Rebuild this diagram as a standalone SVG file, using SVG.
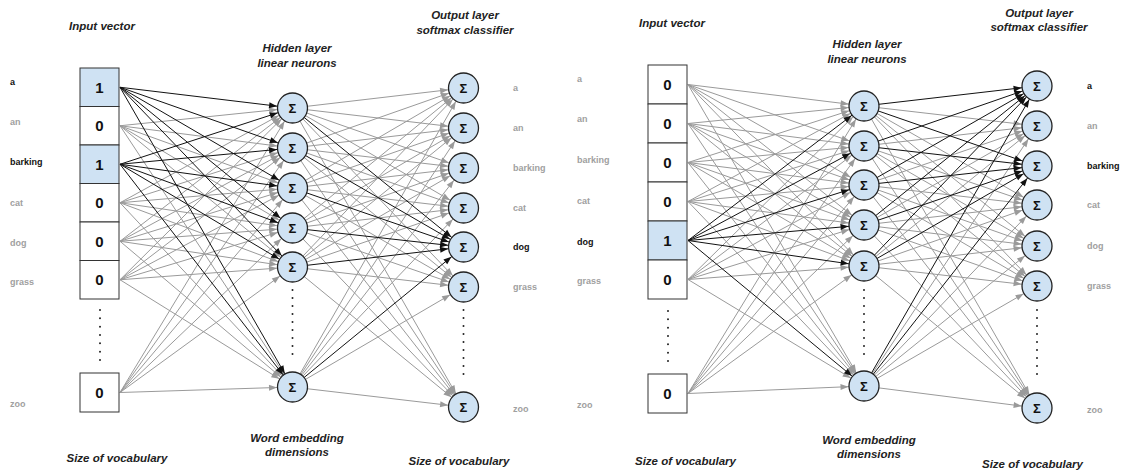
<svg xmlns="http://www.w3.org/2000/svg" width="1130" height="471" viewBox="0 0 1130 471">
<style>
text{font-family:"Liberation Sans",Arial,sans-serif}
.t{font-size:11.5px;font-weight:bold;font-style:italic;fill:#222;text-anchor:middle}
.w{font-size:9px;font-weight:bold;fill:#a0a0a0}
.wa{font-size:9px;font-weight:bold;fill:#111}
.g{stroke:#9a9a9a;stroke-width:1;marker-end:url(#ag)}
.k{stroke:#111;stroke-width:1;marker-end:url(#ak)}
.box{fill:#fff;stroke:#333;stroke-width:1}
.on{fill:#cfe2f3;stroke:#333;stroke-width:1}
.num{font-size:15px;font-weight:bold;fill:#111;text-anchor:middle}
.n{fill:#cfe2f3;stroke:#222;stroke-width:1.3}
.s{font-size:13px;font-weight:bold;fill:#111;text-anchor:middle}
.dots{stroke:#222;stroke-width:2;stroke-linecap:round;fill:none}
</style>
<defs>
<marker id="ag" markerUnits="userSpaceOnUse" markerWidth="8" markerHeight="6" refX="23.5" refY="3" orient="auto" overflow="visible"><path d="M0,0 L8,3 L0,6 z" fill="#9a9a9a"/></marker>
<marker id="ak" markerUnits="userSpaceOnUse" markerWidth="8" markerHeight="6" refX="23.5" refY="3" orient="auto" overflow="visible"><path d="M0,0 L8,3 L0,6 z" fill="#111"/></marker>
</defs>
<rect width="1130" height="471" fill="#fff"/>

<g id="connectors">
<!-- left input -> hidden, gray -->
<line class="g" x1="120" y1="125.75" x2="292.5" y2="108"/><line class="g" x1="120" y1="125.75" x2="292.5" y2="148"/><line class="g" x1="120" y1="125.75" x2="292.5" y2="188"/><line class="g" x1="120" y1="125.75" x2="292.5" y2="228"/><line class="g" x1="120" y1="125.75" x2="292.5" y2="267"/><line class="g" x1="120" y1="125.75" x2="292.5" y2="387"/>
<line class="g" x1="120" y1="202.75" x2="292.5" y2="108"/><line class="g" x1="120" y1="202.75" x2="292.5" y2="148"/><line class="g" x1="120" y1="202.75" x2="292.5" y2="188"/><line class="g" x1="120" y1="202.75" x2="292.5" y2="228"/><line class="g" x1="120" y1="202.75" x2="292.5" y2="267"/><line class="g" x1="120" y1="202.75" x2="292.5" y2="387"/>
<line class="g" x1="120" y1="241.25" x2="292.5" y2="108"/><line class="g" x1="120" y1="241.25" x2="292.5" y2="148"/><line class="g" x1="120" y1="241.25" x2="292.5" y2="188"/><line class="g" x1="120" y1="241.25" x2="292.5" y2="228"/><line class="g" x1="120" y1="241.25" x2="292.5" y2="267"/><line class="g" x1="120" y1="241.25" x2="292.5" y2="387"/>
<line class="g" x1="120" y1="279.75" x2="292.5" y2="108"/><line class="g" x1="120" y1="279.75" x2="292.5" y2="148"/><line class="g" x1="120" y1="279.75" x2="292.5" y2="188"/><line class="g" x1="120" y1="279.75" x2="292.5" y2="228"/><line class="g" x1="120" y1="279.75" x2="292.5" y2="267"/><line class="g" x1="120" y1="279.75" x2="292.5" y2="387"/>
<line class="g" x1="120" y1="392.5" x2="292.5" y2="108"/><line class="g" x1="120" y1="392.5" x2="292.5" y2="148"/><line class="g" x1="120" y1="392.5" x2="292.5" y2="188"/><line class="g" x1="120" y1="392.5" x2="292.5" y2="228"/><line class="g" x1="120" y1="392.5" x2="292.5" y2="267"/><line class="g" x1="120" y1="392.5" x2="292.5" y2="387"/>
<!-- left hidden -> output, gray -->
<line class="g" x1="292.5" y1="108" x2="463.5" y2="88"/><line class="g" x1="292.5" y1="108" x2="463.5" y2="128"/><line class="g" x1="292.5" y1="108" x2="463.5" y2="168"/><line class="g" x1="292.5" y1="108" x2="463.5" y2="208"/><line class="g" x1="292.5" y1="108" x2="463.5" y2="287"/><line class="g" x1="292.5" y1="108" x2="463.5" y2="407"/>
<line class="g" x1="292.5" y1="148" x2="463.5" y2="88"/><line class="g" x1="292.5" y1="148" x2="463.5" y2="128"/><line class="g" x1="292.5" y1="148" x2="463.5" y2="168"/><line class="g" x1="292.5" y1="148" x2="463.5" y2="208"/><line class="g" x1="292.5" y1="148" x2="463.5" y2="287"/><line class="g" x1="292.5" y1="148" x2="463.5" y2="407"/>
<line class="g" x1="292.5" y1="188" x2="463.5" y2="88"/><line class="g" x1="292.5" y1="188" x2="463.5" y2="128"/><line class="g" x1="292.5" y1="188" x2="463.5" y2="168"/><line class="g" x1="292.5" y1="188" x2="463.5" y2="208"/><line class="g" x1="292.5" y1="188" x2="463.5" y2="287"/><line class="g" x1="292.5" y1="188" x2="463.5" y2="407"/>
<line class="g" x1="292.5" y1="228" x2="463.5" y2="88"/><line class="g" x1="292.5" y1="228" x2="463.5" y2="128"/><line class="g" x1="292.5" y1="228" x2="463.5" y2="168"/><line class="g" x1="292.5" y1="228" x2="463.5" y2="208"/><line class="g" x1="292.5" y1="228" x2="463.5" y2="287"/><line class="g" x1="292.5" y1="228" x2="463.5" y2="407"/>
<line class="g" x1="292.5" y1="267" x2="463.5" y2="88"/><line class="g" x1="292.5" y1="267" x2="463.5" y2="128"/><line class="g" x1="292.5" y1="267" x2="463.5" y2="168"/><line class="g" x1="292.5" y1="267" x2="463.5" y2="208"/><line class="g" x1="292.5" y1="267" x2="463.5" y2="287"/><line class="g" x1="292.5" y1="267" x2="463.5" y2="407"/>
<line class="g" x1="292.5" y1="387" x2="463.5" y2="88"/><line class="g" x1="292.5" y1="387" x2="463.5" y2="128"/><line class="g" x1="292.5" y1="387" x2="463.5" y2="168"/><line class="g" x1="292.5" y1="387" x2="463.5" y2="208"/><line class="g" x1="292.5" y1="387" x2="463.5" y2="287"/><line class="g" x1="292.5" y1="387" x2="463.5" y2="407"/>
<!-- left black -->
<line class="k" x1="120" y1="87.25" x2="292.5" y2="108"/><line class="k" x1="120" y1="87.25" x2="292.5" y2="148"/><line class="k" x1="120" y1="87.25" x2="292.5" y2="188"/><line class="k" x1="120" y1="87.25" x2="292.5" y2="228"/><line class="k" x1="120" y1="87.25" x2="292.5" y2="267"/><line class="k" x1="120" y1="87.25" x2="292.5" y2="387"/>
<line class="k" x1="120" y1="164.25" x2="292.5" y2="108"/><line class="k" x1="120" y1="164.25" x2="292.5" y2="148"/><line class="k" x1="120" y1="164.25" x2="292.5" y2="188"/><line class="k" x1="120" y1="164.25" x2="292.5" y2="228"/><line class="k" x1="120" y1="164.25" x2="292.5" y2="267"/><line class="k" x1="120" y1="164.25" x2="292.5" y2="387"/>
<line class="k" x1="292.5" y1="108" x2="463.5" y2="247"/><line class="k" x1="292.5" y1="148" x2="463.5" y2="247"/><line class="k" x1="292.5" y1="188" x2="463.5" y2="247"/><line class="k" x1="292.5" y1="228" x2="463.5" y2="247"/><line class="k" x1="292.5" y1="267" x2="463.5" y2="247"/><line class="k" x1="292.5" y1="387" x2="463.5" y2="247"/>

<!-- right input -> hidden, gray -->
<line class="g" x1="688" y1="84.5" x2="864" y2="106"/><line class="g" x1="688" y1="84.5" x2="864" y2="146"/><line class="g" x1="688" y1="84.5" x2="864" y2="185"/><line class="g" x1="688" y1="84.5" x2="864" y2="225"/><line class="g" x1="688" y1="84.5" x2="864" y2="266"/><line class="g" x1="688" y1="84.5" x2="864" y2="386"/>
<line class="g" x1="688" y1="123.5" x2="864" y2="106"/><line class="g" x1="688" y1="123.5" x2="864" y2="146"/><line class="g" x1="688" y1="123.5" x2="864" y2="185"/><line class="g" x1="688" y1="123.5" x2="864" y2="225"/><line class="g" x1="688" y1="123.5" x2="864" y2="266"/><line class="g" x1="688" y1="123.5" x2="864" y2="386"/>
<line class="g" x1="688" y1="162.5" x2="864" y2="106"/><line class="g" x1="688" y1="162.5" x2="864" y2="146"/><line class="g" x1="688" y1="162.5" x2="864" y2="185"/><line class="g" x1="688" y1="162.5" x2="864" y2="225"/><line class="g" x1="688" y1="162.5" x2="864" y2="266"/><line class="g" x1="688" y1="162.5" x2="864" y2="386"/>
<line class="g" x1="688" y1="201.5" x2="864" y2="106"/><line class="g" x1="688" y1="201.5" x2="864" y2="146"/><line class="g" x1="688" y1="201.5" x2="864" y2="185"/><line class="g" x1="688" y1="201.5" x2="864" y2="225"/><line class="g" x1="688" y1="201.5" x2="864" y2="266"/><line class="g" x1="688" y1="201.5" x2="864" y2="386"/>
<line class="g" x1="688" y1="279.5" x2="864" y2="106"/><line class="g" x1="688" y1="279.5" x2="864" y2="146"/><line class="g" x1="688" y1="279.5" x2="864" y2="185"/><line class="g" x1="688" y1="279.5" x2="864" y2="225"/><line class="g" x1="688" y1="279.5" x2="864" y2="266"/><line class="g" x1="688" y1="279.5" x2="864" y2="386"/>
<line class="g" x1="688" y1="393.5" x2="864" y2="106"/><line class="g" x1="688" y1="393.5" x2="864" y2="146"/><line class="g" x1="688" y1="393.5" x2="864" y2="185"/><line class="g" x1="688" y1="393.5" x2="864" y2="225"/><line class="g" x1="688" y1="393.5" x2="864" y2="266"/><line class="g" x1="688" y1="393.5" x2="864" y2="386"/>
<!-- right hidden -> output, gray -->
<line class="g" x1="864" y1="106" x2="1037" y2="126"/><line class="g" x1="864" y1="106" x2="1037" y2="205"/><line class="g" x1="864" y1="106" x2="1037" y2="246"/><line class="g" x1="864" y1="106" x2="1037" y2="286"/><line class="g" x1="864" y1="106" x2="1037" y2="408"/>
<line class="g" x1="864" y1="146" x2="1037" y2="126"/><line class="g" x1="864" y1="146" x2="1037" y2="205"/><line class="g" x1="864" y1="146" x2="1037" y2="246"/><line class="g" x1="864" y1="146" x2="1037" y2="286"/><line class="g" x1="864" y1="146" x2="1037" y2="408"/>
<line class="g" x1="864" y1="185" x2="1037" y2="126"/><line class="g" x1="864" y1="185" x2="1037" y2="205"/><line class="g" x1="864" y1="185" x2="1037" y2="246"/><line class="g" x1="864" y1="185" x2="1037" y2="286"/><line class="g" x1="864" y1="185" x2="1037" y2="408"/>
<line class="g" x1="864" y1="225" x2="1037" y2="126"/><line class="g" x1="864" y1="225" x2="1037" y2="205"/><line class="g" x1="864" y1="225" x2="1037" y2="246"/><line class="g" x1="864" y1="225" x2="1037" y2="286"/><line class="g" x1="864" y1="225" x2="1037" y2="408"/>
<line class="g" x1="864" y1="266" x2="1037" y2="126"/><line class="g" x1="864" y1="266" x2="1037" y2="205"/><line class="g" x1="864" y1="266" x2="1037" y2="246"/><line class="g" x1="864" y1="266" x2="1037" y2="286"/><line class="g" x1="864" y1="266" x2="1037" y2="408"/>
<line class="g" x1="864" y1="386" x2="1037" y2="126"/><line class="g" x1="864" y1="386" x2="1037" y2="205"/><line class="g" x1="864" y1="386" x2="1037" y2="246"/><line class="g" x1="864" y1="386" x2="1037" y2="286"/><line class="g" x1="864" y1="386" x2="1037" y2="408"/>
<!-- right black -->
<line class="k" x1="688" y1="240.5" x2="864" y2="106"/><line class="k" x1="688" y1="240.5" x2="864" y2="146"/><line class="k" x1="688" y1="240.5" x2="864" y2="185"/><line class="k" x1="688" y1="240.5" x2="864" y2="225"/><line class="k" x1="688" y1="240.5" x2="864" y2="266"/><line class="k" x1="688" y1="240.5" x2="864" y2="386"/>
<line class="k" x1="864" y1="106" x2="1037" y2="86"/><line class="k" x1="864" y1="146" x2="1037" y2="86"/><line class="k" x1="864" y1="185" x2="1037" y2="86"/><line class="k" x1="864" y1="225" x2="1037" y2="86"/><line class="k" x1="864" y1="266" x2="1037" y2="86"/><line class="k" x1="864" y1="386" x2="1037" y2="86"/>
<line class="k" x1="864" y1="106" x2="1037" y2="166"/><line class="k" x1="864" y1="146" x2="1037" y2="166"/><line class="k" x1="864" y1="185" x2="1037" y2="166"/><line class="k" x1="864" y1="225" x2="1037" y2="166"/><line class="k" x1="864" y1="266" x2="1037" y2="166"/><line class="k" x1="864" y1="386" x2="1037" y2="166"/>
</g>

<!-- LEFT PANEL -->
<g id="left-titles">
<text class="t" x="102" y="30">Input vector</text>
<text class="t" x="297" y="52">Hidden layer</text>
<text class="t" x="297" y="66.5">linear neurons</text>
<text class="t" x="465" y="19">Output layer</text>
<text class="t" x="465" y="34">softmax classifier</text>
<text class="t" x="297" y="442">Word embedding</text>
<text class="t" x="297" y="456">dimensions</text>
<text class="t" x="117" y="462">Size of vocabulary</text>
<text class="t" x="459" y="465">Size of vocabulary</text>
</g>
<g id="left-input-labels">
<text class="wa" x="10" y="85">a</text>
<text class="w" x="10" y="125">an</text>
<text class="wa" x="10" y="165">barking</text>
<text class="w" x="10" y="206">cat</text>
<text class="w" x="10" y="246">dog</text>
<text class="w" x="10" y="285">grass</text>
<text class="w" x="10" y="406.5">zoo</text>
</g>
<g id="left-in-a"><rect class="on" x="80" y="68" width="39" height="38.5"/><text class="num" x="99.5" y="92.5">1</text></g>
<g id="left-in-an"><rect class="box" x="80" y="106.5" width="39" height="38.5"/><text class="num" x="99.5" y="131">0</text></g>
<g id="left-in-barking"><rect class="on" x="80" y="145" width="39" height="38.5"/><text class="num" x="99.5" y="169.5">1</text></g>
<g id="left-in-cat"><rect class="box" x="80" y="183.5" width="39" height="38.5"/><text class="num" x="99.5" y="208">0</text></g>
<g id="left-in-dog"><rect class="box" x="80" y="222" width="39" height="38.5"/><text class="num" x="99.5" y="246.5">0</text></g>
<g id="left-in-grass"><rect class="box" x="80" y="260.5" width="39" height="38.5"/><text class="num" x="99.5" y="285">0</text></g>
<g id="left-in-zoo"><rect class="box" x="80" y="373" width="39" height="39"/><text class="num" x="99.5" y="398">0</text></g>
<line class="dots" x1="100" y1="310" x2="100" y2="360" stroke-dasharray="0 8.33"/>

<g id="left-h1"><circle class="n" cx="292.5" cy="108" r="15"/><text class="s" x="292.5" y="112.5">Σ</text></g>
<g id="left-h2"><circle class="n" cx="292.5" cy="148" r="15"/><text class="s" x="292.5" y="152.5">Σ</text></g>
<g id="left-h3"><circle class="n" cx="292.5" cy="188" r="15"/><text class="s" x="292.5" y="192.5">Σ</text></g>
<g id="left-h4"><circle class="n" cx="292.5" cy="228" r="15"/><text class="s" x="292.5" y="232.5">Σ</text></g>
<g id="left-h5"><circle class="n" cx="292.5" cy="267" r="15"/><text class="s" x="292.5" y="271.5">Σ</text></g>
<g id="left-hn"><circle class="n" cx="292.5" cy="387" r="15"/><text class="s" x="292.5" y="391.5">Σ</text></g>
<line class="dots" x1="292.5" y1="290" x2="292.5" y2="362" stroke-dasharray="0 8"/>

<g id="left-o-a"><circle class="n" cx="463.5" cy="88" r="15"/><text class="s" x="463.5" y="92.5">Σ</text><text class="w" x="513" y="91">a</text></g>
<g id="left-o-an"><circle class="n" cx="463.5" cy="128" r="15"/><text class="s" x="463.5" y="132.5">Σ</text><text class="w" x="513" y="131">an</text></g>
<g id="left-o-barking"><circle class="n" cx="463.5" cy="168" r="15"/><text class="s" x="463.5" y="172.5">Σ</text><text class="w" x="513" y="171">barking</text></g>
<g id="left-o-cat"><circle class="n" cx="463.5" cy="208" r="15"/><text class="s" x="463.5" y="212.5">Σ</text><text class="w" x="513" y="211">cat</text></g>
<g id="left-o-dog"><circle class="n" cx="463.5" cy="247" r="15"/><text class="s" x="463.5" y="251.5">Σ</text><text class="wa" x="513" y="250">dog</text></g>
<g id="left-o-grass"><circle class="n" cx="463.5" cy="287" r="15"/><text class="s" x="463.5" y="291.5">Σ</text><text class="w" x="513" y="290">grass</text></g>
<g id="left-o-zoo"><circle class="n" cx="463.5" cy="407" r="15"/><text class="s" x="463.5" y="411.5">Σ</text><text class="w" x="513" y="412">zoo</text></g>
<line class="dots" x1="463.5" y1="310" x2="463.5" y2="382" stroke-dasharray="0 8"/>

<!-- RIGHT PANEL -->
<g id="right-titles">
<text class="t" x="672" y="27">Input vector</text>
<text class="t" x="867" y="47.5">Hidden layer</text>
<text class="t" x="867" y="63">linear neurons</text>
<text class="t" x="1039" y="16.5">Output layer</text>
<text class="t" x="1039" y="31">softmax classifier</text>
<text class="t" x="869" y="443.5">Word embedding</text>
<text class="t" x="869" y="457.5">dimensions</text>
<text class="t" x="685.5" y="465">Size of vocabulary</text>
<text class="t" x="1032.5" y="467.5">Size of vocabulary</text>
</g>
<g id="right-input-labels">
<text class="w" x="577" y="82">a</text>
<text class="w" x="577" y="122">an</text>
<text class="w" x="577" y="163">barking</text>
<text class="w" x="577" y="204">cat</text>
<text class="wa" x="577" y="245">dog</text>
<text class="w" x="577" y="284">grass</text>
<text class="w" x="577" y="408">zoo</text>
</g>
<g id="right-in-a"><rect class="box" x="648" y="65" width="39" height="39"/><text class="num" x="667.5" y="90">0</text></g>
<g id="right-in-an"><rect class="box" x="648" y="104" width="39" height="39"/><text class="num" x="667.5" y="129">0</text></g>
<g id="right-in-barking"><rect class="box" x="648" y="143" width="39" height="39"/><text class="num" x="667.5" y="168">0</text></g>
<g id="right-in-cat"><rect class="box" x="648" y="182" width="39" height="39"/><text class="num" x="667.5" y="207">0</text></g>
<g id="right-in-dog"><rect class="on" x="648" y="221" width="39" height="39"/><text class="num" x="667.5" y="246">1</text></g>
<g id="right-in-grass"><rect class="box" x="648" y="260" width="39" height="39"/><text class="num" x="667.5" y="285">0</text></g>
<g id="right-in-zoo"><rect class="box" x="648" y="374" width="39" height="39"/><text class="num" x="667.5" y="399">0</text></g>
<line class="dots" x1="668" y1="311" x2="668" y2="361" stroke-dasharray="0 8.33"/>

<g id="right-h1"><circle class="n" cx="864" cy="106" r="15"/><text class="s" x="864" y="110.5">Σ</text></g>
<g id="right-h2"><circle class="n" cx="864" cy="146" r="15"/><text class="s" x="864" y="150.5">Σ</text></g>
<g id="right-h3"><circle class="n" cx="864" cy="185" r="15"/><text class="s" x="864" y="189.5">Σ</text></g>
<g id="right-h4"><circle class="n" cx="864" cy="225" r="15"/><text class="s" x="864" y="229.5">Σ</text></g>
<g id="right-h5"><circle class="n" cx="864" cy="266" r="15"/><text class="s" x="864" y="270.5">Σ</text></g>
<g id="right-hn"><circle class="n" cx="864" cy="386" r="15"/><text class="s" x="864" y="390.5">Σ</text></g>
<line class="dots" x1="864" y1="290" x2="864" y2="362" stroke-dasharray="0 8"/>

<g id="right-o-a"><circle class="n" cx="1037" cy="86" r="15"/><text class="s" x="1037" y="90.5">Σ</text><text class="wa" x="1087" y="89">a</text></g>
<g id="right-o-an"><circle class="n" cx="1037" cy="126" r="15"/><text class="s" x="1037" y="130.5">Σ</text><text class="w" x="1087" y="129">an</text></g>
<g id="right-o-barking"><circle class="n" cx="1037" cy="166" r="15"/><text class="s" x="1037" y="170.5">Σ</text><text class="wa" x="1087" y="169">barking</text></g>
<g id="right-o-cat"><circle class="n" cx="1037" cy="205" r="15"/><text class="s" x="1037" y="209.5">Σ</text><text class="w" x="1087" y="208">cat</text></g>
<g id="right-o-dog"><circle class="n" cx="1037" cy="246" r="15"/><text class="s" x="1037" y="250.5">Σ</text><text class="w" x="1087" y="249">dog</text></g>
<g id="right-o-grass"><circle class="n" cx="1037" cy="286" r="15"/><text class="s" x="1037" y="290.5">Σ</text><text class="w" x="1087" y="289">grass</text></g>
<g id="right-o-zoo"><circle class="n" cx="1037" cy="408" r="15"/><text class="s" x="1037" y="412.5">Σ</text><text class="w" x="1087" y="413">zoo</text></g>
<line class="dots" x1="1037" y1="310" x2="1037" y2="382" stroke-dasharray="0 8"/>
</svg>
